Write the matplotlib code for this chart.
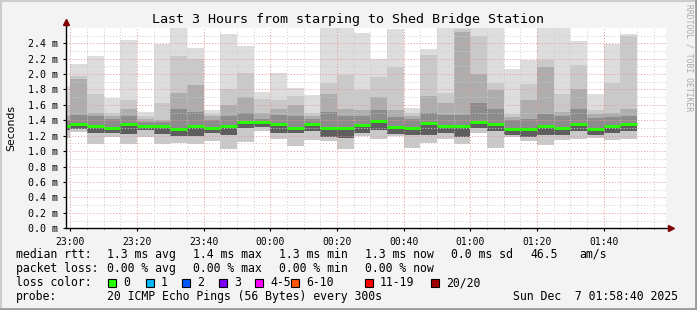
import numpy as np
import matplotlib
matplotlib.use("Agg")
import matplotlib.pyplot as plt
from matplotlib.lines import Line2D
from matplotlib.patches import Rectangle

# 5 minute slots, minutes after 23:00 (first one is partly outside the window)
slot_start = np.arange(-5, 170, 5)

# rtt in ms per slot: max, smoke boundaries, median, lower band, min
rtt_max = [1.84, 2.13, 2.23, 1.69, 2.44, 1.51, 2.39, 2.60, 2.34, 1.53, 2.52, 2.36, 1.77, 2.02, 1.82, 1.73, 2.60, 2.60,
           2.53, 2.19, 2.59, 1.56, 2.33, 2.60, 2.60, 2.60, 2.60, 2.06, 2.18, 2.60, 2.60, 2.43, 1.74, 2.39, 2.52]
rtt_hi1 = [1.60, 1.97, 1.74, 1.50, 1.67, 1.46, 1.62, 2.24, 2.20, 1.48, 1.81, 2.01, 1.68, 1.67, 1.72, 1.50, 1.88, 1.99,
           1.79, 1.96, 2.09, 1.50, 2.25, 1.75, 2.58, 2.50, 1.88, 1.48, 1.87, 2.18, 1.74, 2.12, 1.53, 1.89, 2.50]
rtt_hi2 = [1.45, 1.94, 1.50, 1.46, 1.55, 1.42, 1.40, 1.75, 1.86, 1.45, 1.60, 1.70, 1.50, 1.55, 1.60, 1.46, 1.74, 1.55,
           1.53, 1.70, 1.53, 1.45, 1.72, 1.62, 2.55, 2.00, 1.79, 1.44, 1.67, 2.09, 1.51, 1.81, 1.48, 1.49, 1.55]
rtt_hi3 = [1.40, 1.47, 1.45, 1.42, 1.46, 1.38, 1.38, 1.55, 1.51, 1.40, 1.46, 1.50, 1.42, 1.47, 1.45, 1.42, 1.51, 1.45,
           1.45, 1.53, 1.44, 1.42, 1.50, 1.47, 1.47, 1.62, 1.55, 1.40, 1.42, 1.48, 1.45, 1.55, 1.43, 1.44, 1.46]
rtt_median = [1.33, 1.35, 1.325, 1.30, 1.35, 1.33, 1.33, 1.29, 1.325, 1.30, 1.325, 1.38, 1.38, 1.35, 1.30, 1.35, 1.30, 1.30,
              1.34, 1.39, 1.31, 1.30, 1.36, 1.325, 1.325, 1.38, 1.35, 1.29, 1.29, 1.325, 1.30, 1.35, 1.29, 1.325, 1.35]
rtt_lo = [1.27, 1.29, 1.23, 1.24, 1.22, 1.28, 1.22, 1.20, 1.20, 1.24, 1.21, 1.30, 1.31, 1.23, 1.24, 1.26, 1.19, 1.17,
          1.23, 1.28, 1.22, 1.21, 1.21, 1.23, 1.19, 1.30, 1.26, 1.21, 1.19, 1.21, 1.21, 1.26, 1.21, 1.23, 1.26]
rtt_min = [1.17, 1.25, 1.09, 1.19, 1.09, 1.19, 1.09, 1.10, 1.09, 1.13, 1.03, 1.12, 1.26, 1.16, 1.065, 1.14, 1.13, 1.03,
           1.20, 1.16, 1.20, 1.045, 1.11, 1.16, 1.09, 1.24, 1.045, 1.19, 1.13, 1.08, 1.14, 1.16, 1.17, 1.14, 1.16]

time_ticks = [0, 20, 40, 60, 80, 100, 120, 140, 160]
time_labels = ["23:00", "23:20", "23:40", "00:00", "00:20", "00:40", "01:00", "01:20", "01:40"]
y_ticks = [0.0, 0.2, 0.4, 0.6, 0.8, 1.0, 1.2, 1.4, 1.6, 1.8, 2.0, 2.2, 2.4]

loss_labels = ["0", "1", "2", "3", "4-5", "6-10", "11-19", "20/20"]
loss_colors = ["#26ff00", "#00b8ff", "#0059ff", "#7e00ff", "#ff00ff", "#ff5500", "#ff0000", "#a10000"]

mono = "DejaVu Sans Mono"
W, H = 697, 310

fig = plt.figure(figsize=(W / 100, H / 100), dpi=100, facecolor="#f3f3f3")
ax = fig.add_axes([66 / W, 81.7 / H, 600 / W, 200.5 / H])
ax.set_facecolor("white")
ax.set_xlim(-4 / 3, 178 + 2 / 3)
ax.set_ylim(0, 2.6)

rtt_max, rtt_hi1, rtt_hi2, rtt_hi3 = map(np.array, (rtt_max, rtt_hi1, rtt_hi2, rtt_hi3))
rtt_median, rtt_lo, rtt_min = map(np.array, (rtt_median, rtt_lo, rtt_min))

# smoke, lightest first
bands = [(rtt_min, rtt_max, "#dddddd"),
         (rtt_min, rtt_hi1, "#c9c9c9"),
         (rtt_lo, rtt_hi2, "#adadad"),
         (rtt_lo, rtt_hi3, "#8c8c8c"),
         (rtt_lo, rtt_median, "#5e5e5e")]
for lo, hi, c in bands:
    ax.bar(slot_start, hi - lo, bottom=lo, width=5, align="edge", color=c, linewidth=0, zorder=1)

ax.hlines(rtt_median, slot_start, slot_start + 5, colors=loss_colors[0], linewidth=2.1, zorder=3)

# grid on top of smoke
dot = (0, (1, 2))
for v in np.arange(0.1, 2.6, 0.1):
    major = round(v * 10) % 2 == 0
    ax.axhline(v, color="#eb9494" if major else "#cccccc", lw=0.7, ls=dot, zorder=2)
for m in range(0, 180, 5):
    ax.axvline(m, color="#eb9494" if m % 20 == 0 else "#cccccc", lw=0.7, ls=dot, zorder=2)

for s in ax.spines.values():
    s.set_visible(False)

ax.set_xticks(time_ticks)
ax.set_xticklabels(time_labels, family=mono, fontsize=7)
ax.set_xticks(range(0, 180, 5), minor=True)
ax.set_yticks(y_ticks)
ax.set_yticklabels([f"{v:.1f} m" for v in y_ticks], family=mono, fontsize=7.2)
ax.tick_params(axis="both", which="major", length=2, width=0.8, pad=4)
ax.tick_params(axis="both", which="minor", length=1, width=0.6)

# axis lines with arrows
ax.plot([0, 0], [0, 1.03], transform=ax.transAxes, color="black", lw=1, clip_on=False, zorder=4)
ax.plot([0, 1.005], [0, 0], transform=ax.transAxes, color="black", lw=1, clip_on=False, zorder=4)
ax.plot([0], [1.03], transform=ax.transAxes, marker="^", ms=4, color="#7f0000", clip_on=False, zorder=5)
ax.plot([1.008], [0], transform=ax.transAxes, marker=">", ms=4, color="#7f0000", clip_on=False, zorder=5)

fig.text(348 / W, 1 - 19.5 / H, "Last 3 Hours from starping to Shed Bridge Station", family=mono, fontsize=9.6,
         ha="center", va="center")
fig.text(11 / W, 1 - 128 / H, "Seconds", fontsize=7.8, rotation=90, ha="center", va="center")
fig.text(688.5 / W, 1 - 58 / H, "RRDTOOL / TOBI OETIKER", family=mono, fontsize=5.8, color="#aaaaaa",
         rotation=270, ha="center", va="center")

fs = 8.3
rows = [
    (254.3, [(16, "median rtt:"), (107, "1.3 ms avg"), (193, "1.4 ms max"), (279, "1.3 ms min"),
             (365, "1.3 ms now"), (451, "0.0 ms sd"), (530, "46.5"), (579, "am/s")]),
    (268.3, [(16, "packet loss:"), (107, "0.00 % avg"), (193, "0.00 % max"), (279, "0.00 % min"),
             (365, "0.00 % now")]),
    (282.7, [(16, "loss color:")]),
    (296.7, [(16, "probe:"), (107, "20 ICMP Echo Pings (56 Bytes) every 300s"), (513, "Sun Dec  7 01:58:40 2025")]),
]
for y, items in rows:
    for x, t in items:
        fig.text(x / W, 1 - y / H, t, family=mono, fontsize=fs, ha="left", va="center")

swatch_x = [108, 146, 182, 219, 255, 291, 365, 431]
for x, lab, c in zip(swatch_x, loss_labels, loss_colors):
    fig.add_artist(Rectangle((x / W, 1 - 287 / H), 8 / W, 8 / H, transform=fig.transFigure,
                             facecolor=c, edgecolor="black", linewidth=0.8))
    fig.text((x + 15) / W, 1 - 282.7 / H, lab, family=mono, fontsize=fs, ha="left", va="center")

# 3d-ish frame
fig.add_artist(Line2D([0, 1], [1 - 1 / H, 1 - 1 / H], transform=fig.transFigure, color="#cccccc", lw=1.5))
fig.add_artist(Line2D([1 / W, 1 / W], [0, 1], transform=fig.transFigure, color="#cccccc", lw=1.5))
fig.add_artist(Line2D([0, 1], [1.2 / H, 1.2 / H], transform=fig.transFigure, color="#9a9a9a", lw=2))
fig.add_artist(Line2D([1 - 1.2 / W, 1 - 1.2 / W], [0, 1], transform=fig.transFigure, color="#9a9a9a", lw=2))

fig.savefig("out.png", dpi=100, facecolor=fig.get_facecolor())
